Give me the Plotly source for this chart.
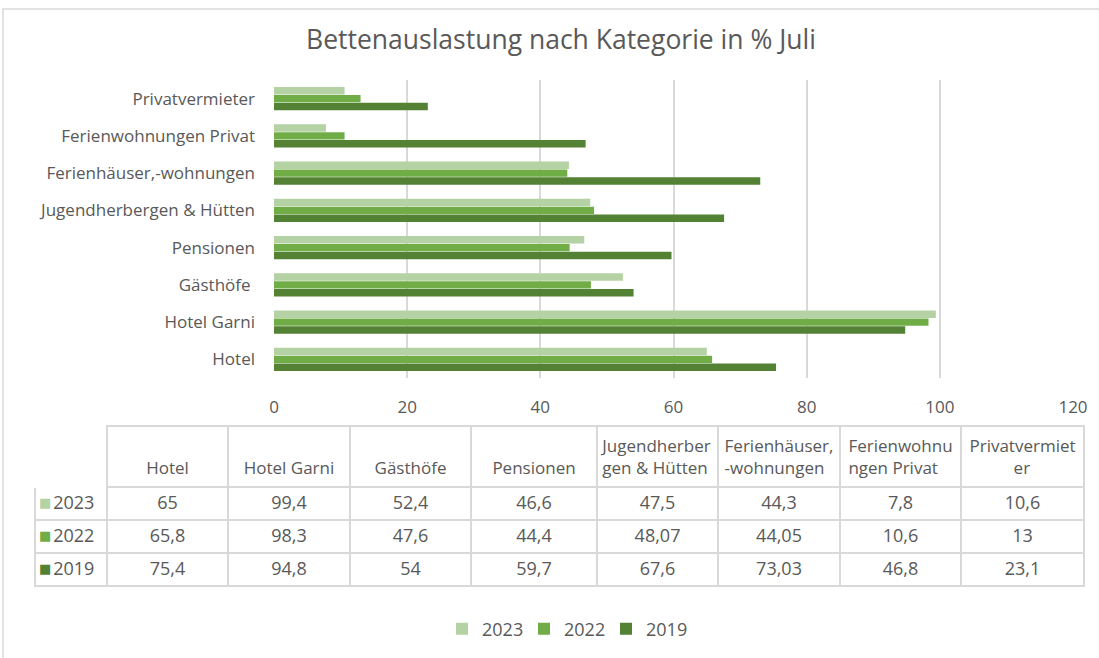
import plotly.graph_objects as go

categories = ["Hotel", "Hotel Garni", "Gästhöfe ", "Pensionen", "Jugendherbergen & Hütten",
              "Ferienhäuser,-wohnungen", "Ferienwohnungen Privat", "Privatvermieter"]
table_headers = ["", "\u00a0<br>Hotel", "\u00a0<br>Hotel Garni", "\u00a0<br>Gästhöfe",
                 "\u00a0<br>Pensionen",
                 "Jugendherber<br>gen & Hütten", "Ferienhäuser,<br>-wohnungen",
                 "Ferienwohnu<br>ngen Privat",
                 "Privatvermiet<br>" + "\u00a0" * 10 + "er"]
years = ["2023", "2022", "2019"]
v2023 = [65, 99.4, 52.4, 46.6, 47.5, 44.3, 7.8, 10.6]
v2022 = [65.8, 98.3, 47.6, 44.4, 48.07, 44.05, 10.6, 13]
v2019 = [75.4, 94.8, 54, 59.7, 67.6, 73.03, 46.8, 23.1]
x_ticks = [0, 20, 40, 60, 80, 100, 120]

colors = {"2023": "#B5D2A5", "2022": "#70AD47", "2019": "#548235"}
series = {"2023": v2023, "2022": v2022, "2019": v2019}

FONT = "'Open Sans', 'Noto Sans', sans-serif"
GREY = "#595959"
LINE = "#D9D9D9"
W, H = 1099, 658
TABLE_LEFT, TABLE_RIGHT, TABLE_TOP = 35, 1084, 426
HEADER_H, ROW_H = 60, 33

fig = go.Figure()
for y in ["2019", "2022", "2023"]:
    fig.add_trace(go.Bar(
        y=categories, x=series[y], orientation="h", name=y,
        marker=dict(color=colors[y], line=dict(width=0)),
        xaxis="x", yaxis="y",
    ))

def fmt(v):
    return str(v).replace(".", ",")

first_col = [y + "\u00a0" for y in years]
cols = [first_col]
for i in range(len(categories)):
    cols.append([fmt(series[y][i]) for y in years])

fig.add_trace(go.Table(
    domain=dict(x=[TABLE_LEFT / W, TABLE_RIGHT / W],
                y=[1 - (TABLE_TOP + HEADER_H + 3 * ROW_H + 4) / H, 1 - TABLE_TOP / H]),
    columnwidth=[72, 121, 122, 121, 126, 121, 122, 121, 123],
    header=dict(
        values=table_headers,
        height=HEADER_H,
        align="center",
        line=dict(color=["white"] + [LINE] * 8, width=1.5),
        fill=dict(color="white"),
        font=dict(family=FONT, size=17, color=GREY),
    ),
    cells=dict(
        values=cols,
        height=ROW_H,
        align=["right"] + ["center"] * 8,
        line=dict(color=LINE, width=1.5),
        fill=dict(color="white"),
        font=dict(family=FONT, size=18, color=GREY),
    ),
))

# legend keys inside the table's first column
annotations = []
for r, y in enumerate(years):
    annotations.append(dict(
        text="■", xref="paper", yref="paper", showarrow=False,
        x=(TABLE_LEFT + 10) / W, xanchor="center",
        y=1 - (TABLE_TOP + HEADER_H + ROW_H * (r + 0.5)) / H, yanchor="middle",
        font=dict(size=13, color=colors[y], family="DejaVu Sans"),
    ))

fig.update_layout(
    width=W, height=H,
    margin=dict(l=0, r=0, t=0, b=0, autoexpand=False),
    paper_bgcolor="white", plot_bgcolor="white",
    barmode="group", bargap=0.36, bargroupgap=0.06,
    font=dict(family=FONT, color=GREY, size=17),
    title=dict(text="Bettenauslastung nach Kategorie in % Juli",
               x=561 / W, xanchor="center", y=1 - 40 / H, yanchor="middle",
               font=dict(family=FONT, size=26.5, color=GREY)),
    xaxis=dict(domain=[274 / W, 1073 / W], range=[0, 120], tickvals=x_ticks,
               showgrid=True, gridcolor=LINE, gridwidth=1.5, zeroline=False,
               showline=False, ticks="", tickfont=dict(size=17, color=GREY),
               ticklabelstandoff=17, anchor="y", fixedrange=True, automargin=False),
    yaxis=dict(domain=[1 - 378 / H, 1 - 80 / H], showgrid=False, ticks="",
               ticklabelstandoff=18, tickfont=dict(size=17, color=GREY), anchor="x",
               fixedrange=True, automargin=False),
    legend=dict(orientation="h", x=565 / W, xanchor="center", y=1 - 629 / H, yanchor="middle",
                traceorder="reversed", font=dict(size=18, color=GREY),
                itemwidth=30, entrywidth=37, entrywidthmode="pixels"),
    showlegend=True,
    annotations=annotations,
    shapes=[dict(type="rect", xref="paper", yref="paper", x0=3 / W, x1=1.02,
                 y0=-0.02, y1=1 - 9 / H, line=dict(color=LINE, width=1.5))],
)

fig.write_html("out.html", config={"displayModeBar": False},
               post_script="document.body.style.margin='0';document.body.style.overflow='hidden';")
